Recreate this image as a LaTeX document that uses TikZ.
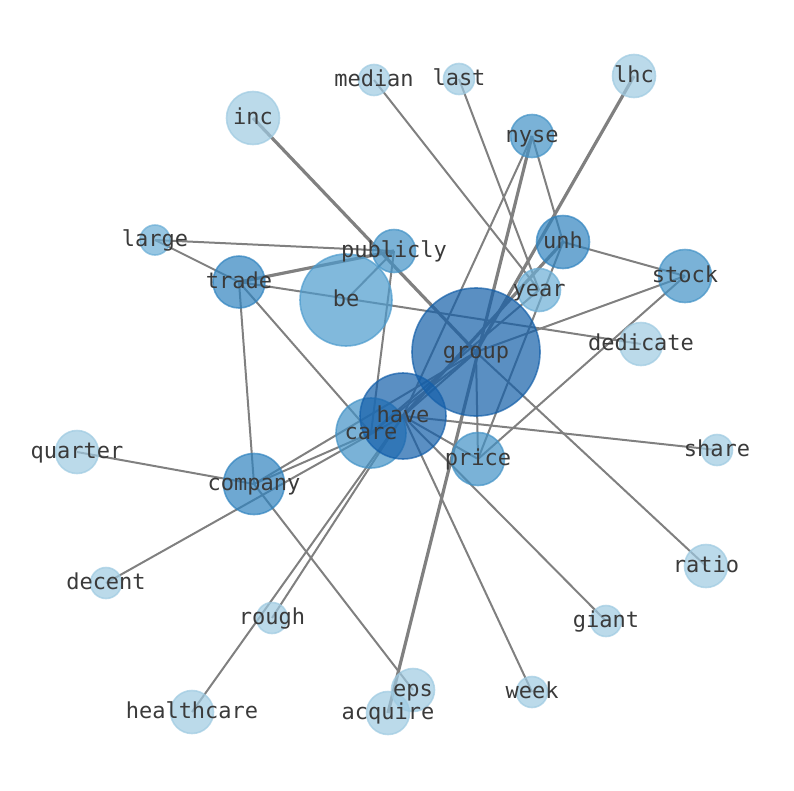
\documentclass[tikz,border=0pt]{standalone}
\usepackage{fontspec}
\newfontfamily\lblfont{DejaVu Sans Mono}
\definecolor{edgegray}{RGB}{128,128,128}
\definecolor{txtgray}{RGB}{58,58,58}
\definecolor{cG}{RGB}{20,95,168}
\definecolor{cH}{RGB}{20,95,170}
\definecolor{cU}{RGB}{48,131,191}
\definecolor{cC}{RGB}{66,146,198}
\definecolor{cB}{RGB}{76,155,205}
\definecolor{cY}{RGB}{107,174,214}
\definecolor{cL}{RGB}{158,202,225}
\begin{document}
\begin{tikzpicture}[x=1pt,y=-1pt,
  vtx/.style={circle,inner sep=0pt,fill opacity=0.7,draw opacity=0.7,line width=1.6pt},
  lbl/.style={font=\lblfont\fontsize{22}{24}\selectfont,text=txtgray,inner sep=0pt,anchor=base,yshift=-6.5pt},
  edg/.style={draw=edgegray,line width=2pt},
  hedg/.style={draw=edgegray,line width=3.2pt}]
\useasboundingbox (0,0) rectangle (794,790);
% coordinates of node centres
\coordinate (pgroup) at (476,352);
\coordinate (phave) at (403,416);
\coordinate (pcare) at (371,433);
\coordinate (pbe) at (346,300);
\coordinate (ptrade) at (239,282);
\coordinate (ppublicly) at (394,251);
\coordinate (plarge) at (155,240);
\coordinate (punh) at (563,242);
\coordinate (pnyse) at (532,136);
\coordinate (pstock) at (685,276);
\coordinate (pyear) at (539,290);
\coordinate (pdedicate) at (641,344);
\coordinate (pprice) at (478,459);
\coordinate (pcompany) at (254,484);
\coordinate (pinc) at (253,118);
\coordinate (pmedian) at (374,80);
\coordinate (plast) at (459,79);
\coordinate (plhc) at (634,76);
\coordinate (pquarter) at (77,452);
\coordinate (pshare) at (717,450);
\coordinate (pratio) at (706,566);
\coordinate (pgiant) at (606,621);
\coordinate (pdecent) at (106,583);
\coordinate (prough) at (272,618);
\coordinate (phealthcare) at (192,712);
\coordinate (pacquire) at (388,713);
\coordinate (peps) at (413,690);
\coordinate (pweek) at (532,692);
% edges
\draw[hedg] (pinc) -- (pgroup);
\draw[hedg] (plhc) -- (pgroup);
\draw[hedg] (pnyse) -- (pacquire);
\draw[hedg] (ptrade) -- (ppublicly);
\draw[hedg] (phave) -- (punh);
\draw[edg] (pgroup) -- (pratio);
\draw[edg] (pmedian) -- (pyear);
\draw[edg] (plast) -- (pyear);
\draw[edg] (pnyse) -- (phave);
\draw[edg] (pnyse) -- (punh);
\draw[edg] (punh) -- (pstock);
\draw[edg] (pcare) -- (pyear);
\draw[edg] (punh) -- (pprice);
\draw[edg] (pstock) -- (pprice);
\draw[edg] (pstock) -- (pgroup);
\draw[edg] (plarge) -- (ppublicly);
\draw[edg] (plarge) -- (ptrade);
\draw[edg] (ptrade) -- (pdedicate);
\draw[edg] (ptrade) -- (pcare);
\draw[edg] (ptrade) -- (pcompany);
\draw[edg] (ppublicly) -- (pbe);
\draw[edg] (ppublicly) -- (pcare);
\draw[edg] (phave) -- (pshare);
\draw[edg] (phave) -- (pgiant);
\draw[edg] (phave) -- (pweek);
\draw[edg] (phave) -- (pprice);
\draw[edg] (pgroup) -- (pprice);
\draw[edg] (pquarter) -- (pcompany);
\draw[edg] (pdecent) -- (phave);
\draw[edg] (pcompany) -- (peps);
\draw[edg] (prough) -- (phave);
\draw[edg] (phealthcare) -- (phave);
\draw[edg] (pcompany) -- (pgroup);
\draw[edg] (pcompany) -- (pcare);
\draw[edg] (phave) -- (pgroup);
\draw[edg] (pcare) -- (pgroup);
% nodes
\node[vtx,minimum size=128pt,fill=cG,draw=cG] (group) at (pgroup) {};
\node[vtx,minimum size=70pt,fill=cC,draw=cC] (care) at (pcare) {};
\node[vtx,minimum size=86pt,fill=cH,draw=cH] (have) at (phave) {};
\node[vtx,minimum size=92pt,fill=cB,draw=cB] (be) at (pbe) {};
\node[vtx,minimum size=52pt,fill=cU,draw=cU] (trade) at (ptrade) {};
\node[vtx,minimum size=43pt,fill=cC,draw=cC] (publicly) at (ppublicly) {};
\node[vtx,minimum size=30pt,fill=cY,draw=cY] (large) at (plarge) {};
\node[vtx,minimum size=53pt,fill=cU,draw=cU] (unh) at (punh) {};
\node[vtx,minimum size=43pt,fill=cC,draw=cC] (nyse) at (pnyse) {};
\node[vtx,minimum size=53pt,fill=cC,draw=cC] (stock) at (pstock) {};
\node[vtx,minimum size=43pt,fill=cY,draw=cY] (year) at (pyear) {};
\node[vtx,minimum size=43pt,fill=cL,draw=cL] (dedicate) at (pdedicate) {};
\node[vtx,minimum size=53pt,fill=cC,draw=cC] (price) at (pprice) {};
\node[vtx,minimum size=61pt,fill=cU,draw=cU] (company) at (pcompany) {};
\node[vtx,minimum size=53pt,fill=cL,draw=cL] (inc) at (pinc) {};
\node[vtx,minimum size=31pt,fill=cL,draw=cL] (median) at (pmedian) {};
\node[vtx,minimum size=31pt,fill=cL,draw=cL] (last) at (plast) {};
\node[vtx,minimum size=43pt,fill=cL,draw=cL] (lhc) at (plhc) {};
\node[vtx,minimum size=43pt,fill=cL,draw=cL] (quarter) at (pquarter) {};
\node[vtx,minimum size=31pt,fill=cL,draw=cL] (share) at (pshare) {};
\node[vtx,minimum size=43pt,fill=cL,draw=cL] (ratio) at (pratio) {};
\node[vtx,minimum size=31pt,fill=cL,draw=cL] (giant) at (pgiant) {};
\node[vtx,minimum size=31pt,fill=cL,draw=cL] (decent) at (pdecent) {};
\node[vtx,minimum size=31pt,fill=cL,draw=cL] (rough) at (prough) {};
\node[vtx,minimum size=43pt,fill=cL,draw=cL] (healthcare) at (phealthcare) {};
\node[vtx,minimum size=43pt,fill=cL,draw=cL] (acquire) at (pacquire) {};
\node[vtx,minimum size=43pt,fill=cL,draw=cL] (eps) at (peps) {};
\node[vtx,minimum size=31pt,fill=cL,draw=cL] (week) at (pweek) {};
% labels
\foreach \n in {group,have,care,be,trade,publicly,large,unh,nyse,stock,year,dedicate,price,company,inc,median,last,lhc,quarter,share,ratio,giant,decent,rough,healthcare,acquire,eps,week}
  \node[lbl] (t\n) at (\n.center) {\n};
\end{tikzpicture}
\end{document}
